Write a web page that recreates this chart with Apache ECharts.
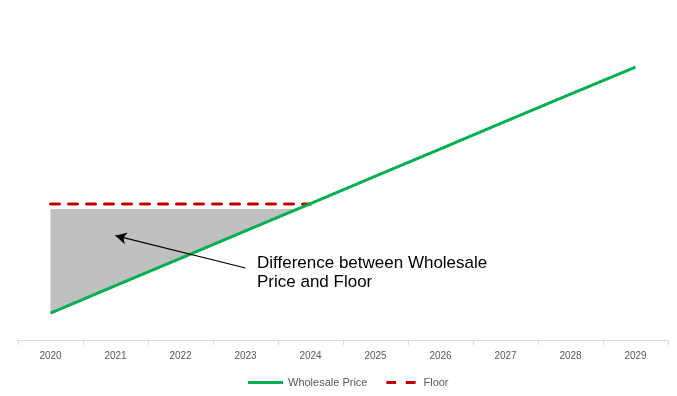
<!DOCTYPE html>
<html><head><meta charset="utf-8">
<script src="https://cdn.jsdelivr.net/npm/echarts@6/dist/echarts.min.js"></script>
<style>html,body{margin:0;padding:0;background:#fff}#c{width:677px;height:396px}</style>
</head><body><div id="c"></div>
<script>
const categories = ['2020','2021','2022','2023','2024','2025','2026','2027','2028','2029'];
const wholesale = [8.4, 17.0, 25.5, 34.1, 42.6, 51.2, 59.7, 68.3, 76.8, 85.3];
const floor = [42.5, 42.5, 42.5, 42.5, 42.5, null, null, null, null, null];
const shadeTop = 40.9;
const annotationText = 'Difference between Wholesale\nPrice and Floor';

function renderShade(params, api) {
  const top0 = api.coord([0, shadeTop]);
  let k = 0;
  while (k < wholesale.length - 1 && wholesale[k + 1] < shadeTop) k++;
  const a = api.coord([k, wholesale[k]]);
  const b = api.coord([k + 1, wholesale[k + 1]]);
  const t = (shadeTop - wholesale[k]) / (wholesale[k + 1] - wholesale[k]);
  const cross = [a[0] + (b[0] - a[0]) * t, a[1] + (b[1] - a[1]) * t];
  const pts = [top0, cross];
  for (let i = k; i >= 0; i--) pts.push(api.coord([i, wholesale[i]]));
  return { type: 'polygon', shape: { points: pts }, style: { fill: '#c0c0c0' } };
}

const chart = echarts.init(document.getElementById('c'));
chart.setOption({
  animation: false,
  grid: { left: 18, right: 9, top: 20, bottom: 56 },
  title: {
    text: annotationText, left: 252, top: 249,
    textStyle: { fontFamily: 'Liberation Sans', fontSize: 17, fontWeight: 'normal', color: '#000', lineHeight: 19 }
  },
  legend: {
    bottom: 3, left: 243, itemWidth: 35, itemHeight: 10, itemGap: 16,
    textStyle: { fontFamily: 'Liberation Sans', fontSize: 11, color: '#595959' },
    data: [
      { name: 'Wholesale Price', icon: 'path://M0,0H35V3H0Z', itemStyle: { color: '#00B050' } },
      { name: 'Floor', icon: 'path://M3,0H13V3H3Z M23,0H33V3H23Z M0,0H0.01V0.01H0Z M36,0H36.01V0.01H36Z', itemStyle: { color: '#C00000' } }
    ]
  },
  xAxis: {
    type: 'category', data: categories, boundaryGap: true,
    axisLine: { lineStyle: { color: '#d9d9d9', width: 1 } },
    axisTick: { show: true, length: 5, lineStyle: { color: '#d9d9d9' } },
    axisLabel: { fontFamily: 'Liberation Sans', fontSize: 10, color: '#595959', margin: 11 }
  },
  yAxis: { type: 'value', min: 0, max: 100, show: false, splitLine: { show: false } },
  series: [
    {
      name: 'shade', type: 'custom', silent: true, z: 1,
      renderItem: renderShade, data: [0]
    },
    {
      name: 'Floor', type: 'line', data: floor, symbol: 'none',
      itemStyle: { color: '#C00000' },
      lineStyle: { color: '#C00000', width: 3, type: [9, 9], cap: 'round' }, z: 3
    },
    {
      name: 'Wholesale Price', type: 'line', data: wholesale, symbol: 'none',
      itemStyle: { color: '#00B050' },
      lineStyle: { color: '#00B050', width: 3 }, z: 4,
      markLine: {
        silent: true, symbol: ['none', 'arrow'], symbolSize: [9, 11],
        label: { show: false },
        lineStyle: { color: '#000', width: 1.2, type: 'solid' },
        data: [[{ coord: [3, 22.5] }, { coord: [1, 32.6] }]]
      }
    }
  ]
});
</script></body></html>
